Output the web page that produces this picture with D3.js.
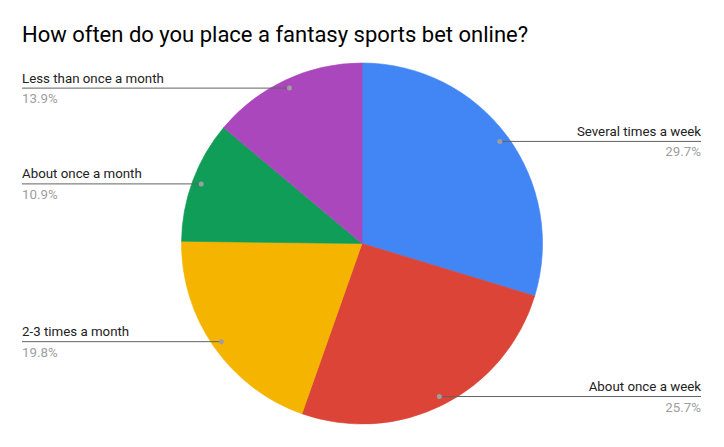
<!DOCTYPE html>
<html><head><meta charset="utf-8">
<script src="https://cdn.jsdelivr.net/npm/d3@7"></script>
<style>body{margin:0;background:#fff}svg{display:block}text{font-family:Roboto,"Noto Sans",sans-serif}</style>
</head><body><svg id="c" width="724" height="447"></svg>
<script>
const categories = ["Several times a week","About once a week","2-3 times a month","About once a month","Less than once a month"];
const values = [29.7, 25.7, 19.8, 10.9, 13.9];
const colors = ["#4285F4","#DB4437","#F4B400","#0F9D58","#AB47BC"];
const title = "How often do you place a fantasy sports bet online?";

const W=724,H=447,cx=362,cy=243.5,R=180.5;
const svg=d3.select("#c");
svg.append("rect").attr("width",W).attr("height",H).attr("fill","#fff");
svg.append("text").attr("x",22).attr("y",42).attr("font-size",22).attr("fill","#000").text(title);

const data=categories.map((c,i)=>({c,v:values[i],col:colors[i]}));
const pie=d3.pie().value(d=>d.v).sort(null);
const arcs=pie(data);
const arc=d3.arc().innerRadius(0).outerRadius(R);
const dotArc=d3.arc().innerRadius(R*0.95).outerRadius(R*0.95);
const g=svg.append("g").attr("transform",`translate(${cx},${cy})`);
g.selectAll("path").data(arcs).join("path").attr("d",arc).attr("fill",d=>d.data.col).attr("stroke",d=>d.data.col).attr("stroke-width",0.6);

const fmt=v=>v.toFixed(1)+"%";
arcs.forEach(a=>{
  const [dx,dy]=dotArc.centroid(a);
  const px=cx+dx,py=cy+dy;
  const right=px>cx;
  const tx=right?701:22;
  svg.append("line").attr("x1",tx).attr("x2",px).attr("y1",py).attr("y2",py).attr("stroke","#636363").attr("stroke-width",1);
  svg.append("circle").attr("cx",px).attr("cy",py).attr("r",2.5).attr("fill","#9e9e9e");
  svg.append("text").attr("x",tx).attr("y",py-5.5).attr("text-anchor",right?"end":"start").attr("font-size",13.3).attr("fill","#222").text(a.data.c);
  svg.append("text").attr("x",tx).attr("y",py+15).attr("text-anchor",right?"end":"start").attr("font-size",13.3).attr("fill","#9e9e9e").text(fmt(a.data.v));
});
</script></body></html>
